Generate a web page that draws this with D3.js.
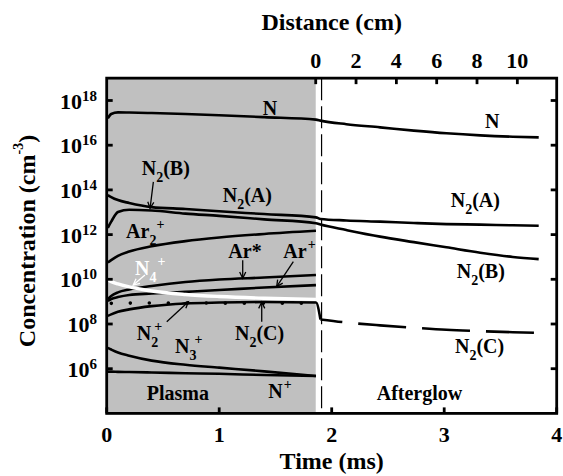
<!DOCTYPE html>
<html>
<head>
<meta charset="utf-8">
<script src="https://cdn.jsdelivr.net/npm/d3@7"></script>
<style>
  body { margin: 0; background: #fff; }
  svg { display: block; }
  text { font-family: "Liberation Serif", "Times New Roman", serif; font-weight: bold; fill: #000; }
</style>
</head>
<body>
<svg id="chart" width="563" height="476"></svg>
<script>
// ---- time grids (ms) ----
const plasmaTime    = [0.01, 0.04, 0.1, 0.2, 0.4, 0.7, 1.0, 1.4, 1.86];
const afterglowTime = [1.9, 2.13, 2.43, 2.73, 3.02, 3.32, 3.61, 3.84];

// ---- species densities (cm^-3) ----
// species that continue into the afterglow
const nPlasma      = [1.6e17, 2.5e17, 2.95e17, 2.9e17, 2.75e17, 2.5e17, 2.2e17, 1.8e17, 1.4e17];
const nAfterglow   = [1.26e17, 8.7e16, 6.3e16, 4.5e16, 3.4e16, 2.75e16, 2.4e16, 2.25e16];
const n2APlasma    = [5.9e13, 4.8e13, 3.5e13, 2.6e13, 1.7e13, 1.4e13, 1.1e13, 8.3e12, 5.9e12];
const n2AAfterglow = [5.0e12, 4.3e12, 3.8e12, 3.3e12, 2.95e12, 2.8e12, 2.6e12, 2.5e12];
const n2BPlasma    = [2.0e12, 3.8e12, 1.02e13, 1.3e13, 1.2e13, 8.7e12, 6.9e12, 4.8e12, 3.2e12];
const n2BAfterglow = [2.8e12, 1.6e12, 8.1e11, 4.6e11, 2.7e11, 1.55e11, 1.0e11, 8.0e10];
const n2CPlasma    = [2.3e8, 2.7e8, 3.5e8, 4.5e8, 6.3e8, 8.3e8, 9.1e8, 9.6e8, 9.1e8];
const n2CAfterglow = [1.6e8, 1.17e8, 8.7e7, 6.8e7, 5.5e7, 4.8e7, 4.3e7, 4.0e7];
// species shown in the discharge only
const ar2Plus  = [5.6e10, 7.2e10, 1.12e11, 1.74e11, 3.0e11, 5.1e11, 7.4e11, 1.07e12, 1.48e12];
const arStar   = [1.3e9, 1.8e9, 2.6e9, 3.5e9, 5.0e9, 7.6e9, 9.8e9, 1.2e10, 1.55e10];
const arPlus   = [1.07e9, 1.3e9, 1.6e9, 2.0e9, 2.3e9, 2.75e9, 3.3e9, 4.3e9, 5.5e9];
const n4Plus   = [9.3e9, 7.9e9, 6.2e9, 4.6e9, 3.0e9, 2.1e9, 1.7e9, 1.42e9, 1.26e9];
const n2Plus   = [8.3e8, 8.4e8, 8.5e8, 8.6e8, 8.7e8, 8.7e8, 8.6e8, 8.5e8, 8.4e8];
const n3Plus   = [8.5e6, 7.2e6, 5.3e6, 3.8e6, 2.3e6, 1.5e6, 1.12e6, 7.6e5, 4.7e5];
const nPlus    = [7.4e5, 7.4e5, 7.2e5, 7.1e5, 6.8e5, 6.3e5, 5.9e5, 5.2e5, 4.7e5];

// ---- axes ----
const timeTicks     = [0, 1, 2, 3, 4];
const distanceTicks = [0, 2, 4, 6, 8, 10];
const concTicks     = [1e6, 1e8, 1e10, 1e12, 1e14, 1e16, 1e18];
const plasmaEnd  = 1.858;  // ms, end of the discharge zone
const flowSpeed  = 5.58;   // cm per ms, gas flow in the afterglow tube
const markerTime = 1.91;   // ms, dashed reference line

// ---- layout ----
const W = 563, H = 476;
const plot = { left: 106.7, right: 556.7, top: 78.15, bottom: 413.4 };

const svg = d3.select("#chart");
const x = d3.scaleLinear().domain([0, 4]).range([plot.left, plot.right]);
const y = d3.scaleLog().domain([1e4, 1e19]).range([plot.bottom, plot.top]);
const xd = d3.scaleLinear()
  .domain([0, (4 - plasmaEnd) * flowSpeed])
  .range([x(plasmaEnd), x(4)]);

const zip = (ts, vs) => ts.map((t, i) => [t, vs[i]]);
const line = d3.line().x(d => x(d[0])).y(d => y(d[1])).curve(d3.curveMonotoneX);

// discharge zone shading
svg.append("rect")
  .attr("x", x(0)).attr("y", y(1e19))
  .attr("width", x(plasmaEnd) - x(0)).attr("height", y(1e4) - y(1e19))
  .attr("fill", "#c0c0c0");

// dashed reference line at the discharge exit
svg.append("line")
  .attr("x1", x(markerTime)).attr("x2", x(markerTime))
  .attr("y1", y(1e19)).attr("y2", y(1e4))
  .attr("stroke", "#000").attr("stroke-width", 1.2)
  .attr("stroke-dasharray", "22 6");

const curves = svg.append("g").attr("fill", "none").attr("stroke-linejoin", "round");

function drawCurve(points, opts = {}) {
  return curves.append("path")
    .attr("d", line(points))
    .attr("stroke", opts.color || "#000")
    .attr("stroke-width", opts.width || 2.6)
    .attr("stroke-dasharray", opts.dash || null)
    .attr("stroke-dashoffset", opts.offset || null)
    .attr("stroke-linecap", opts.cap || "butt");
}

// continuous species
drawCurve(zip(plasmaTime, nPlasma).concat(zip(afterglowTime, nAfterglow)));
drawCurve(zip(plasmaTime, n2APlasma).concat(zip(afterglowTime, n2AAfterglow)));
drawCurve(zip(plasmaTime, n2BPlasma).concat(zip(afterglowTime, n2BAfterglow)));
// N2(C): solid in the discharge, dashed downstream
drawCurve(zip(plasmaTime, n2CPlasma).concat([[afterglowTime[0], n2CAfterglow[0]]]));
drawCurve(zip(afterglowTime, n2CAfterglow), { dash: "48 16", offset: 26 });
// discharge-only species
drawCurve(zip(plasmaTime, ar2Plus));
drawCurve(zip(plasmaTime, arStar));
drawCurve(zip(plasmaTime, arPlus));
drawCurve(zip(plasmaTime, n3Plus));
drawCurve(zip(plasmaTime, nPlus));
drawCurve(zip(plasmaTime, n2Plus), { width: 3.6, dash: "0 19", offset: 15.5, cap: "round" });
drawCurve(zip(plasmaTime, n4Plus), { color: "#fff", width: 3.4 });

// ---- in-plot labels (positions in data units: time, density) ----
const labels = [
  { parts: [["N"]], t: 1.388, c: 2.2e17 },
  { parts: [["N"]], t: 3.363, c: 5.8e16 },
  { parts: [["N"], ["2", "sub"], ["(A)"]], t: 1.031, c: 2.95e13 },
  { parts: [["N"], ["2", "sub"], ["(B)"]], t: 0.311, c: 4.7e14 },
  { parts: [["N"], ["2", "sub"], ["(A)"]], t: 3.058, c: 1.66e13 },
  { parts: [["N"], ["2", "sub"], ["(B)"]], t: 3.111, c: 1.1e10 },
  { parts: [["N"], ["2", "sub"], ["(C)"]], t: 3.096, c: 5.0e6 },
  { parts: [["N"], ["2", "sub"], ["(C)"]], t: 1.140, c: 1.9e7 },
  { parts: [["Afterglow"]], t: 2.4, c: 4.0e4 },
  { parts: [["Plasma"]], t: 0.356, c: 4.0e4 },
  { parts: [["N"], ["+", "sup", 1]], t: 1.436, c: 4.9e4 },
  { parts: [["N"], ["3", "sub"], ["+", "sup", -2]], t: 0.607, c: 5.0e6 },
  { parts: [["N"], ["2", "sub"], ["+", "sup", -4]], t: 0.267, c: 1.9e7 },
  { parts: [["Ar*"]], t: 1.081, c: 8.7e10 },
  { parts: [["Ar"], ["+", "sup", 1]], t: 1.570, c: 8.7e10 },
  { parts: [["Ar"], ["2", "sub"], ["+", "sup", 0]], t: 0.172, c: 6.8e11 },
  { parts: [["N"], ["4", "sub"], ["+", "sup", 1]], t: 0.252, c: 1.55e10, color: "#fff" }
];

const shift = { base: 0, sub: 7, sup: -9 };
labels.forEach(lb => {
  const txt = svg.append("text")
    .attr("x", x(lb.t)).attr("y", y(lb.c))
    .style("font-size", "20px")
    .style("fill", lb.color || "#000");
  let cur = 0;
  lb.parts.forEach(([s, kind, dx]) => {
    const target = shift[kind || "base"];
    const ts = txt.append("tspan").text(s).attr("dy", target - cur);
    if (kind) ts.style("font-size", "14px");
    if (dx) ts.attr("dx", dx);
    cur = target;
  });
});

// ---- arrows (data units) ----
const arrows = [
  { from: [0.415, 2.3e14], to: [0.385, 1.5e13] },
  { from: [1.209, 7.2e10], to: [1.209, 1.1e10] },
  { from: [1.659, 6.2e10], to: [1.511, 4.7e9] },
  { from: [0.534, 1.26e8], to: [0.726, 1.0e9] },
  { from: [1.378, 1.26e8], to: [1.378, 9.6e8] },
  { from: [0.34, 1.55e10], to: [0.236, 5.5e9], color: "#fff" }
];
arrows.forEach(a => {
  const x1 = x(a.from[0]), y1 = y(a.from[1]), x2 = x(a.to[0]), y2 = y(a.to[1]);
  const ang = Math.atan2(y2 - y1, x2 - x1), L = 7, spread = 0.45;
  const col = a.color || "#000";
  const g = svg.append("g").attr("stroke", col).attr("stroke-width", 1.3).attr("fill", "none");
  g.append("line").attr("x1", x1).attr("y1", y1).attr("x2", x2).attr("y2", y2);
  g.append("path").attr("d",
    `M${x2 - L * Math.cos(ang - spread)},${y2 - L * Math.sin(ang - spread)}` +
    `L${x2},${y2}` +
    `L${x2 - L * Math.cos(ang + spread)},${y2 - L * Math.sin(ang + spread)}`);
});

// ---- frame and ticks ----
const frame = svg.append("g").attr("stroke", "#000").attr("stroke-width", 2.8);
frame.append("rect")
  .attr("x", plot.left).attr("y", plot.top)
  .attr("width", plot.right - plot.left).attr("height", plot.bottom - plot.top)
  .attr("fill", "none");
const TL = 6;
timeTicks.forEach(t => frame.append("line")
  .attr("x1", x(t)).attr("x2", x(t)).attr("y1", plot.bottom).attr("y2", plot.bottom - TL));
distanceTicks.forEach(d => frame.append("line")
  .attr("x1", xd(d)).attr("x2", xd(d)).attr("y1", plot.top).attr("y2", plot.top + TL));
concTicks.forEach(v => {
  frame.append("line").attr("x1", plot.left).attr("x2", plot.left + TL).attr("y1", y(v)).attr("y2", y(v));
  frame.append("line").attr("x1", plot.right).attr("x2", plot.right - TL).attr("y1", y(v)).attr("y2", y(v));
});

// tick labels
timeTicks.forEach(t => svg.append("text")
  .attr("x", x(t)).attr("y", 442).attr("text-anchor", "middle")
  .style("font-size", "22px").text(t));
distanceTicks.forEach(d => svg.append("text")
  .attr("x", xd(d)).attr("y", 68).attr("text-anchor", "middle")
  .style("font-size", "22px").text(d));
concTicks.forEach(v => {
  const t = svg.append("text")
    .attr("x", 97).attr("y", y(v) + 8).attr("text-anchor", "end")
    .style("font-size", "22px");
  t.append("tspan").text("10");
  t.append("tspan").attr("dy", -8).style("font-size", "15px").text(Math.round(Math.log10(v)));
});

// axis titles
svg.append("text")
  .attr("x", (plot.left + plot.right) / 2).attr("y", 469).attr("text-anchor", "middle")
  .style("font-size", "24px").text("Time (ms)");
svg.append("text")
  .attr("x", (plot.left + plot.right) / 2).attr("y", 30).attr("text-anchor", "middle")
  .style("font-size", "24px").text("Distance (cm)");
const yt = svg.append("text")
  .attr("transform", "translate(35,241) rotate(-90)")
  .attr("text-anchor", "middle").style("font-size", "24px");
yt.append("tspan").text("Concentration (cm");
yt.append("tspan").attr("dy", -12).style("font-size", "14px").text("-3");
yt.append("tspan").attr("dy", 12).text(")");
</script>
</body>
</html>
